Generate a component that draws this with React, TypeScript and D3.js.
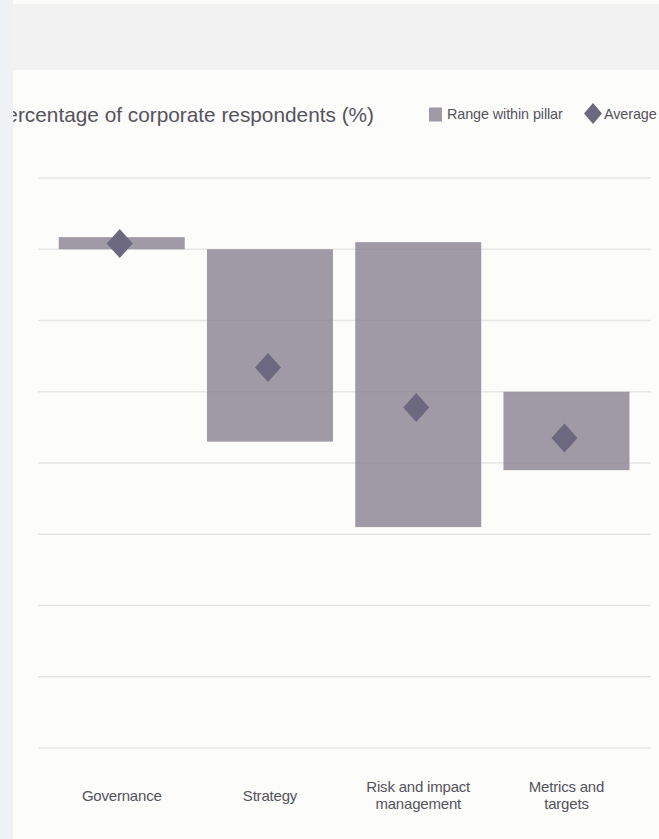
import React, { useEffect } from "react";
import * as d3 from "d3";

// Pillars and their ranges (share of corporate respondents, %)
const categories = ["Governance", "Strategy", "Risk and impact management", "Metrics and targets"];
const categoryLines = [["Governance"], ["Strategy"], ["Risk and impact", "management"], ["Metrics and", "targets"]];
const rangeLow = [70, 43, 31, 39];
const rangeHigh = [71.7, 70, 71, 50];
const average = [70.8, 53.4, 47.8, 43.5];
const gridTicks = [0, 10, 20, 30, 40, 50, 60, 70, 80];

const title = "Percentage of corporate respondents (%)";
const legendRange = "Range within pillar";
const legendAverage = "Average";

const W = 659;
const H = 839;
const FONT = "'Liberation Sans', Arial, Helvetica, sans-serif";
const BAR = "#81798a";
const DIAMOND = "#6b687f";

export default function App() {
  useEffect(() => {
    document.body.style.margin = "0";
  }, []);

  const x = d3.scaleBand<string>().domain(categories).range([36.5, 651.7]).paddingInner(0.15).paddingOuter(0.15);
  const y = d3.scaleLinear().domain([0, 80]).range([748, 178]);

  const diamond = (cx: number, cy: number, w: number, h: number) =>
    `M${cx},${cy - h / 2}L${cx + w / 2},${cy}L${cx},${cy + h / 2}L${cx - w / 2},${cy}Z`;

  return (
    <svg width={W} height={H} style={{ display: "block", position: "absolute", left: 0, top: 0 }}>
      <rect x={0} y={0} width={W} height={H} fill="#fcfcfb" />
      <rect x={0} y={4} width={W} height={66} fill="#f2f2f2" />

      {/* title */}
      <text x={374} y={122} textAnchor="end" fontFamily={FONT} fontSize={20.8} fill="#55535c">
        {title}
      </text>

      {/* legend */}
      <rect x={429} y={107.5} width={13} height={14} fill={BAR} opacity={0.75} />
      <text x={447} y={119} fontFamily={FONT} fontSize={14.4} fill="#55535c" letterSpacing={-0.1}>
        {legendRange}
      </text>
      <path d={diamond(593, 113.5, 18, 21)} fill={DIAMOND} />
      <text x={604} y={119} fontFamily={FONT} fontSize={14.4} fill="#55535c" letterSpacing={-0.1}>
        {legendAverage}
      </text>

      {/* gridlines */}
      {gridTicks.map((t) => (
        <line key={t} x1={38} x2={651} y1={y(t)} y2={y(t)} stroke="#e6e6e6" strokeWidth={1.5} />
      ))}

      {/* range bars */}
      {categories.map((c, i) => (
        <rect
          key={c}
          x={x(c)!}
          y={y(rangeHigh[i])}
          width={x.bandwidth()}
          height={y(rangeLow[i]) - y(rangeHigh[i])}
          fill={BAR}
          opacity={0.75}
        />
      ))}

      {/* averages */}
      {categories.map((c, i) => (
        <path key={c} d={diamond(x(c)! + x.bandwidth() / 2 - 2, y(average[i]), 26, 29)} fill={DIAMOND} />
      ))}

      {/* category labels */}
      {categories.map((c, i) => {
        const lines = categoryLines[i];
        const cx = x(c)! + x.bandwidth() / 2;
        const y0 = lines.length === 1 ? 801 : 792;
        return (
          <text key={c} textAnchor="middle" fontFamily={FONT} fontSize={15} fill="#55535c" letterSpacing={-0.2}>
            {lines.map((l, j) => (
              <tspan key={j} x={cx} y={y0 + j * 17}>
                {l}
              </tspan>
            ))}
          </text>
        );
      })}

      {/* left edge strip */}
      <rect x={0} y={0} width={13} height={H} fill="#eff2f5" />
    </svg>
  );
}
